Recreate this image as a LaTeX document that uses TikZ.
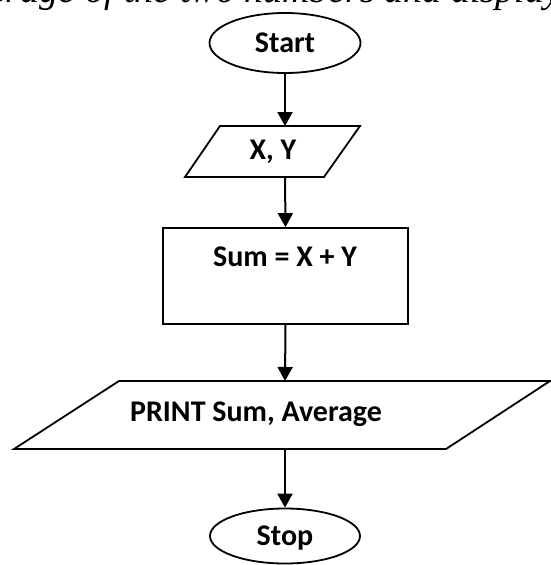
\documentclass[tikz,border=0pt]{standalone}
\usepackage{fontspec}
\setmainfont{Carlito}
\newfontfamily\tnr{Liberation Serif}
\usetikzlibrary{shapes.geometric,arrows.meta}
\begin{document}
\begin{tikzpicture}[x=1pt,y=-1pt,
  outline/.style={line width=1.8pt, line join=miter},
  term/.style={ellipse, draw, line width=1.8pt, inner sep=0pt, text depth=0pt,
    font=\bfseries\fontsize{30}{35}\selectfont},
  lbl/.style={font=\bfseries\fontsize{30}{35}\selectfont, inner sep=0pt},
  flow/.style={line width=2pt, -{Triangle[length=14pt,width=15pt]}}]
\useasboundingbox (0,0) rectangle (551,565);
\clip (0,0) rectangle (551,565);
% cut-off caption line at the very top
\node[anchor=base west, inner sep=0pt, font=\tnr\itshape\fontsize{38}{44}\selectfont] (cap) at (-47,2) {average of the two numbers and display them};
% Start
\node[term, minimum width=151pt, minimum height=60pt] (start) at (285,43) {Start};
% input X, Y
\draw[outline] (220,126) -- (360,126) -- (324,177) -- (185,177) -- cycle;
\node[lbl] (xy) at (273,152) {X, Y};
\coordinate (xyT) at (285,126);
\coordinate (xyB) at (285,177);
% process box
\node[draw, outline, minimum width=245pt, minimum height=96pt, inner sep=0pt] (sumbox) at (285.5,276) {};
\node[lbl] (sumtext) at (285,257) {Sum = X + Y};
% output parallelogram
\draw[outline] (119,381) -- (550,381) -- (446,449) -- (14,449) -- cycle;
\node[lbl] (prtext) at (256,414) {PRINT Sum, Average};
\coordinate (prT) at (285,381);
\coordinate (prB) at (285,449);
% Stop
\node[term, minimum width=150pt, minimum height=55pt] (stop) at (285,536) {Stop};
% connectors
\draw[flow] (start.south) -- (xyT);
\draw[flow] (xyB) -- (sumbox.north);
\draw[flow] (sumbox.south) -- (prT);
\draw[flow] (prB) -- (stop.north);
\end{tikzpicture}
\end{document}
